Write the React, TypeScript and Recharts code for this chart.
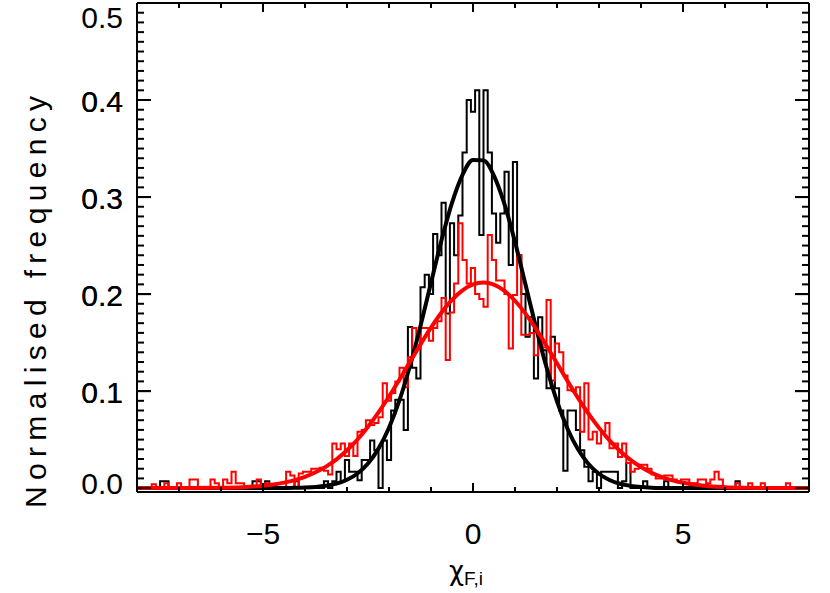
import React from 'react';
import { LineChart, Line, XAxis, YAxis } from 'recharts';

// histogram bins: 0.1 wide, centres from -8.0 to 8.0
const BIN_START = -8;
const BIN_WIDTH = 0.1;

const blackHist = [
  0, 0, 0, 0, 0, 0, 0.007, 0.007, 0, 0,
  0, 0, 0, 0, 0, 0, 0, 0, 0, 0,
  0, 0, 0, 0, 0, 0, 0, 0, 0.007, 0.007,
  0, 0.007, 0, 0, 0, 0, 0, 0, 0.007, 0,
  0, 0, 0, 0, 0, 0.007, 0, 0.007, 0.017, 0.007,
  0.029, 0.017, 0.017, 0.008, 0.029, 0.029, 0.049, 0.039, 0, 0.049,
  0.029, 0.08, 0.091, 0.091, 0.06, 0.166, 0.124, 0.113, 0.207, 0.22,
  0.2, 0.262, 0.24, 0.294, 0.18, 0.273, 0.24, 0.281, 0.346, 0.4,
  0.388, 0.41, 0.261, 0.41, 0.346, 0.283, 0.253, 0.283, 0.326, 0.23,
  0.336, 0.24, 0.2, 0.156, 0.176, 0.113, 0.176, 0.142, 0.103, 0.156,
  0.103, 0.08, 0.018, 0.08, 0.08, 0.06, 0.039, 0.022, 0.007, 0.017,
  0, 0.017, 0.017, 0.017, 0.017, 0, 0.007, 0.026, 0, 0,
  0, 0.007, 0, 0, 0, 0, 0.007, 0, 0, 0,
  0, 0, 0, 0, 0, 0, 0, 0, 0, 0,
  0, 0, 0, 0.007, 0, 0, 0, 0, 0, 0,
  0, 0, 0, 0, 0, 0, 0, 0, 0, 0,
  0,
];

const redHist = [
  0, 0, 0, 0, 0.004, 0, 0, 0.005, 0, 0,
  0.005, 0, 0, 0.009, 0.009, 0, 0, 0, 0.009, 0.005,
  0, 0.009, 0.005, 0.017, 0.005, 0.005, 0, 0, 0, 0.009,
  0, 0.005, 0, 0, 0, 0, 0.017, 0.013, 0, 0.015,
  0.017, 0.017, 0.02, 0.02, 0.021, 0.018, 0.014, 0.046, 0.04, 0.046,
  0.033, 0.046, 0.033, 0.058, 0.06, 0.07, 0.065, 0.067, 0.073, 0.108,
  0.09, 0.098, 0.11, 0.124, 0.104, 0.135, 0.165, 0.144, 0.165, 0.165,
  0.152, 0.165, 0.172, 0.196, 0.132, 0.181, 0.211, 0.273, 0.235, 0.211,
  0.227, 0.2, 0.195, 0.187, 0.261, 0.235, 0.214, 0.214, 0.2, 0.144,
  0.199, 0.24, 0.158, 0.158, 0.16, 0.137, 0.15, 0.145, 0.194, 0.111,
  0.149, 0.14, 0.116, 0.101, 0.1, 0.104, 0.058, 0.108, 0.05, 0.058,
  0.046, 0.058, 0.067, 0.041, 0.046, 0.032, 0.046, 0.026, 0.017, 0.02,
  0.024, 0.024, 0.02, 0.014, 0.01, 0.01, 0.013, 0.013, 0.009, 0.006,
  0.009, 0.009, 0, 0.005, 0.009, 0.009, 0.005, 0.009, 0.017, 0.009,
  0, 0, 0, 0.005, 0, 0, 0.005, 0, 0, 0.005,
  0, 0, 0, 0, 0, 0.005, 0, 0, 0, 0,
  0,
];

const binCenters = blackHist.map((_, i) => +(BIN_START + i * BIN_WIDTH).toFixed(1));

// gaussian fits
const fitX = [
  -8, -7, -6, -5.5, -5, -4.75, -4.5, -4.25, -4, -3.75, -3.5, -3.25, -3, -2.75, -2.5, -2.25,
  -2, -1.75, -1.5, -1.25, -1, -0.75, -0.5, -0.25, 0, 0.25, 0.5, 0.75, 1, 1.25, 1.5, 1.75,
  2, 2.25, 2.5, 2.75, 3, 3.25, 3.5, 3.75, 4, 4.25, 4.5, 4.75, 5, 5.5, 6, 6.5, 7, 8,
];
const blackFit = [
  0, 0, 0, 0, 0.0001, 0.0001, 0.0002, 0.0003, 0.0006, 0.0012, 0.0024, 0.0046, 0.0086, 0.0151, 0.0254, 0.0407,
  0.0622, 0.0906, 0.1261, 0.1672, 0.2116, 0.2554, 0.294, 0.3229, 0.3382, 0.3378, 0.3219, 0.2926, 0.2537, 0.2098, 0.1655, 0.1245,
  0.0894, 0.0612, 0.04, 0.0249, 0.0148, 0.0084, 0.0045, 0.0023, 0.0011, 0.0005, 0.0002, 0.0001, 0, 0, 0, 0, 0, 0,
];
const redFit = [
  0, 0.0001, 0.0004, 0.001, 0.0025, 0.0038, 0.0057, 0.0082, 0.0117, 0.0163, 0.0222, 0.0297, 0.039, 0.0501, 0.0632, 0.078,
  0.0944, 0.1119, 0.1301, 0.1482, 0.1654, 0.181, 0.1941, 0.2039, 0.21, 0.212, 0.2097, 0.2033, 0.1931, 0.1798, 0.1641, 0.1468,
  0.1286, 0.1105, 0.093, 0.0767, 0.0621, 0.0492, 0.0382, 0.0291, 0.0217, 0.0158, 0.0114, 0.008, 0.0055, 0.0024, 0.001, 0.0004, 0.0001, 0,
];

const xMajor = [-5, 0, 5];
const xTicks = [-7, -6, -5, -4, -3, -2, -1, 0, 1, 2, 3, 4, 5, 6, 7];
const yMajor = [0, 0.1, 0.2, 0.3, 0.4, 0.5];
const yTicks = Array.from({ length: 49 }, (_, i) => +((i + 1) * 0.01).toFixed(2));

const blackHistData = binCenters.map((x, i) => ({ x, y: blackHist[i] }));
const redHistData = binCenters.map((x, i) => ({ x, y: redHist[i] }));
const blackFitData = fitX.map((x, i) => ({ x, y: blackFit[i] }));
const redFitData = fitX.map((x, i) => ({ x, y: redFit[i] }));

const FONT = '"Liberation Sans", Arial, sans-serif';
const isMajorY = (v: number) => yMajor.some(m => Math.abs(m - v) < 1e-6);

const BottomTick = (props: any) => {
  const { x, y, payload } = props;
  const v = payload.value;
  const major = xMajor.includes(v);
  return (
    <g>
      <line x1={x} y1={y} x2={x} y2={y - (major ? 9 : 5)} stroke="#000" strokeWidth={2} />
      {major && (
        <text x={x} y={y + 52} textAnchor="middle" fontSize={30} fontFamily={FONT} fill="#000">
          {v < 0 ? `\u2212${-v}` : v}
        </text>
      )}
    </g>
  );
};

const TopTick = (props: any) => {
  const { x, y, payload } = props;
  const major = xMajor.includes(payload.value);
  return <line x1={x} y1={y} x2={x} y2={y + (major ? 9 : 5)} stroke="#000" strokeWidth={2} />;
};

const LeftTick = (props: any) => {
  const { x, y, payload } = props;
  const v = payload.value;
  const major = isMajorY(v);
  // keep the end labels inside the frame, as the original does
  const dy = v >= 0.5 ? 25 : v <= 0 ? 6 : 12;
  return (
    <g>
      <line x1={x} y1={y} x2={x + (major ? 14 : 7)} y2={y} stroke="#000" strokeWidth={2} />
      {major && (
        <text x={x - 14} y={y + dy} textAnchor="end" fontSize={30} fontFamily={FONT} fill="#000">
          {v.toFixed(1)}
        </text>
      )}
    </g>
  );
};

const RightTick = (props: any) => {
  const { x, y, payload } = props;
  const major = isMajorY(payload.value);
  return <line x1={x} y1={y} x2={x - (major ? 14 : 7)} y2={y} stroke="#000" strokeWidth={2} />;
};

const axisLine = { stroke: '#000', strokeWidth: 2 };

export default function App() {
  return (
    <div style={{ position: 'absolute', left: 0, top: 0, width: 830, height: 593, background: '#fff' }}>
      <LineChart width={830} height={593} margin={{ top: 0, right: 0, bottom: 0, left: 0 }}>
        <XAxis
          xAxisId="b" dataKey="x" type="number" domain={[-8, 8]} allowDataOverflow
          ticks={xTicks} interval={0} height={101} tickSize={0} tickMargin={0}
          tickLine={false} axisLine={axisLine} tick={<BottomTick />}
        />
        <XAxis
          xAxisId="t" orientation="top" dataKey="x" type="number" domain={[-8, 8]} allowDataOverflow
          ticks={xTicks} interval={0} height={3} tickSize={0} tickMargin={0}
          tickLine={false} axisLine={axisLine} tick={<TopTick />}
        />
        <YAxis
          yAxisId="l" type="number" domain={[-0.004, 0.5]} allowDataOverflow
          ticks={[...yMajor, ...yTicks]} interval={0} width={137} tickSize={0} tickMargin={0}
          tickLine={false} axisLine={axisLine} tick={<LeftTick />}
        />
        <YAxis
          yAxisId="r" orientation="right" type="number" domain={[-0.004, 0.5]} allowDataOverflow
          ticks={[...yMajor, ...yTicks]} interval={0} width={21} tickSize={0} tickMargin={0}
          tickLine={false} axisLine={axisLine} tick={<RightTick />}
        />
        <Line xAxisId="b" yAxisId="l" data={blackHistData} dataKey="y" type="step" stroke="#000" strokeWidth={2} dot={false} isAnimationActive={false} />
        <Line xAxisId="b" yAxisId="l" data={redHistData} dataKey="y" type="step" stroke="#ff0000" strokeWidth={2} dot={false} isAnimationActive={false} />
        <Line xAxisId="b" yAxisId="l" data={blackFitData} dataKey="y" type="monotone" stroke="#000" strokeWidth={4} dot={false} isAnimationActive={false} />
        <Line xAxisId="b" yAxisId="l" data={redFitData} dataKey="y" type="monotone" stroke="#ff0000" strokeWidth={4} dot={false} isAnimationActive={false} />
      </LineChart>
      <svg width={830} height={593} style={{ position: 'absolute', left: 0, top: 0, pointerEvents: 'none' }}>
        <text
          transform="translate(46,302) rotate(-90)" textAnchor="middle" fontSize={30}
          fontFamily={FONT} textLength={412} lengthAdjust="spacing" fill="#000"
        >
          Normalised frequency
        </text>
        <text x={449} y={580} fontSize={28} fontFamily={FONT} fill="#000">
          <tspan fontFamily='"DejaVu Sans", sans-serif' fontSize={26}>χ</tspan>
          <tspan fontSize={19} dy={5}>F,i</tspan>
        </text>
      </svg>
    </div>
  );
}
